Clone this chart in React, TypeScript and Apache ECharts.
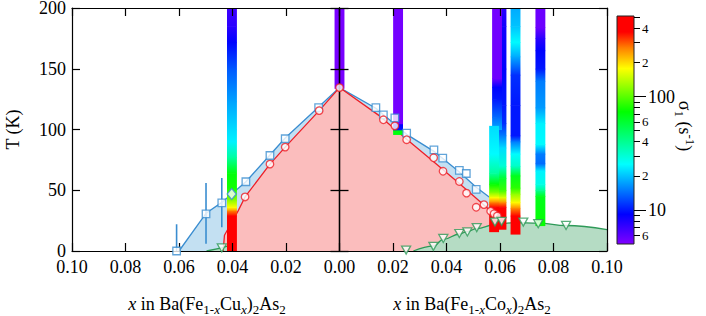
import React, { useEffect, useRef } from 'react';
import * as echarts from 'echarts';

// ---------------- data ----------------
// x < 0 : Cu side (0.10 ... 0.00), x > 0 : Co side (0.00 ... 0.10); y : T (K)
const blueSquares: number[][] = [
  [-0.0609, 0], [-0.0499, 30.6], [-0.044, 39.6], [-0.035, 57], [-0.026, 78.6], [-0.0203, 92.4], [-0.0078, 118],
  [0.0136, 118], [0.0164, 112], [0.0207, 109.5], [0.0251, 97], [0.0353, 83.3], [0.0386, 76.5],
  [0.0448, 66.4], [0.0474, 63.8], [0.0511, 50.8],
];
const blueDiamonds: number[][] = [[-0.0403, 47]];
// [x, low, high]
const blueErrorBars: number[][] = [[-0.0609, 0, 22], [-0.0499, 6, 56], [-0.044, 19.5, 60]];
const redCircles: number[][] = [
  [-0.0353, 44.5], [-0.026, 71.5], [-0.0203, 85.5], [-0.0076, 115.5], [0, 134.5],
  [0.0164, 108], [0.0207, 103], [0.0251, 91.6], [0.0352, 76.7], [0.0387, 65.6], [0.0448, 57.2],
  [0.0475, 47.6], [0.0511, 36], [0.054, 38.2], [0.0565, 32.8], [0.0578, 30.7], [0.059, 28.8],
];
const greenTriangles: number[][] = [
  [-0.044, 2.5],
  [0.0249, 0.8], [0.0351, 3.8], [0.0388, 10.3], [0.0448, 14.4], [0.0478, 15.7], [0.0513, 19.3],
  [0.0581, 23.8], [0.0606, 24.4], [0.0687, 23.8], [0.0743, 22.5], [0.0847, 21],
];
const blueBoundary: number[][] = [
  [-0.06, 0], [-0.0499, 31], [-0.044, 40], [-0.0403, 47], [-0.035, 57], [-0.026, 79], [-0.0203, 93],
  [-0.0078, 118.5], [0, 134.5], [0.0136, 117.5], [0.0251, 96], [0.0353, 82], [0.0448, 65], [0.0511, 52.5],
  [0.0598, 38],
];
const redBoundary: number[][] = [
  [-0.0435, 0], [-0.043, 13], [-0.0379, 33], [-0.0353, 44.5], [-0.026, 71.5], [-0.0203, 85.5],
  [-0.0076, 115.5], [0, 134.5], [0.0151, 111], [0.0251, 92], [0.0352, 73.5], [0.0448, 55.5],
  [0.0511, 43.5], [0.0578, 30.5], [0.0598, 25],
];
const greenBoundaryCu: number[][] = [[-0.0497, 0], [-0.044, 2.5], [-0.0405, 5]];
const greenBoundaryCo: number[][] = [
  [0.0276, 0], [0.0351, 4], [0.0388, 9.5], [0.0448, 14], [0.0478, 16], [0.0513, 18.5], [0.0581, 21.8],
  [0.065, 23.3], [0.0745, 23], [0.0847, 21], [0.1, 17.6],
];

// relaxation-rate strips: x position and [T, rate (s^-1)] nodes, top to bottom
const stripCuX = -0.0402;
const stripCu: number[][] = [
  [200, 6.8], [185, 7.5], [172, 9.2], [150, 13], [123, 17.5], [100, 22], [90, 24], [77, 38], [64, 70],
  [52, 78], [42, 117], [36, 178], [33, 270], [29, 380], [0, 420],
];
const strip0X = 0;
const strip0: number[][] = [[200, 5.2], [134, 5.2]];
const strip22X = 0.0219;
const strip22: number[][] = [[200, 5.3], [105, 5.3], [104, 9.2], [100, 10], [99, 70], [96, 70]];
const stripRX = 0.06055;
const stripR: number[][] = [
  [200, 7.5], [185, 8.5], [150, 9.2], [120, 10], [105, 11], [95, 15], [85, 22], [70, 30], [60, 60],
  [50, 90], [44, 160], [40, 260], [36, 380], [18, 420],
];
const stripQX = 0.0589;
const stripQ: number[][] = [[200, 5.3], [142, 5.5], [135, 9.2], [125, 10], [110, 14], [100, 18]];
const stripPX = 0.0578;
const stripP: number[][] = [
  [103, 22], [80, 25], [64, 38], [55, 74], [48, 117], [44, 178], [40, 270], [36, 380], [16, 420],
];
const stripSX = 0.0658;
const stripS: number[][] = [
  [200, 18], [185, 20], [172, 25], [160, 18], [145, 11], [120, 10], [95, 10], [90, 15], [80, 25],
  [70, 32], [62, 65], [52, 85], [47, 120], [40, 180], [35, 270], [29, 400], [14, 420],
];
const stripUX = 0.0751;
const stripU: number[][] = [
  [200, 5.5], [184, 5.5], [175, 7.5], [165, 9.2], [150, 10], [140, 15], [118, 17], [105, 24], [88, 25],
  [80, 15], [72, 14], [66, 24], [55, 28], [50, 40], [45, 65], [21, 75],
];

// colour bar
const rateMin = 5;
const rateMax = 515;
const cbMajorTicks = [10, 100];
const cbMinorTicks = [6, 7, 8, 9, 20, 30, 40, 50, 60, 70, 80, 90, 200, 300, 400, 500];
const cbMinorLabels = [6, 20, 40, 60, 200, 400];

// ---------------- styles ----------------
const FONT = 'Liberation Serif';
const BLUE = '#3a8dd0';
const RED = '#ee1f27';
const GREEN = '#2e9a58';
const BLUE_FILL = '#c3e0f2';
const RED_FILL = '#fbbdbd';
const GREEN_FILL = '#b5dcc4';
const STRIP_W = 0.0037;

const CMAP: [number, number[]][] = [
  [0, [128, 0, 255]],
  [0.13, [0, 0, 255]],
  [0.35, [0, 255, 255]],
  [0.58, [0, 255, 0]],
  [0.77, [255, 255, 0]],
  [0.86, [255, 128, 0]],
  [0.93, [255, 0, 0]],
  [1, [255, 0, 0]],
];
const LMIN = Math.log10(rateMin);
const LMAX = Math.log10(rateMax);

function colorAt(t: number): string {
  t = Math.max(0, Math.min(1, t));
  for (let i = 1; i < CMAP.length; i++) {
    const [t0, c0] = CMAP[i - 1];
    const [t1, c1] = CMAP[i];
    if (t <= t1) {
      const f = t1 === t0 ? 0 : (t - t0) / (t1 - t0);
      const c = c0.map((v, k) => Math.round(v + (c1[k] - v) * f));
      return `rgb(${c[0]},${c[1]},${c[2]})`;
    }
  }
  return 'rgb(255,0,0)';
}
function rateColor(rate: number): string {
  return colorAt((Math.log10(rate) - LMIN) / (LMAX - LMIN));
}

function stripRows(x: number, nodes: number[][]): number[][] {
  const rows: number[][] = [];
  for (let i = 0; i < nodes.length - 1; i++) {
    rows.push([x, nodes[i][0], nodes[i][1], nodes[i + 1][0], nodes[i + 1][1]]);
  }
  return rows;
}

const stripData = [
  ...stripRows(stripCuX, stripCu),
  ...stripRows(strip0X, strip0),
  ...stripRows(strip22X, strip22),
  ...stripRows(stripRX, stripR),
  ...stripRows(stripQX, stripQ),
  ...stripRows(stripPX, stripP),
  ...stripRows(stripSX, stripS),
  ...stripRows(stripUX, stripU),
];

const axisLine = { color: '#000', width: 1.2 };

function buildOption(): any {
  const subRich = {
    n: { fontSize: 18, fontFamily: FONT, lineHeight: 24, verticalAlign: 'middle', fill: '#000' },
    i: { fontSize: 18, fontFamily: FONT, fontStyle: 'italic', lineHeight: 24, verticalAlign: 'middle', fill: '#000' },
    s: { fontSize: 13, fontFamily: FONT, lineHeight: 13, verticalAlign: 'bottom', fill: '#000' },
    si: { fontSize: 13, fontFamily: FONT, fontStyle: 'italic', lineHeight: 13, verticalAlign: 'bottom', fill: '#000' },
    sup: { fontSize: 13, fontFamily: FONT, lineHeight: 13, verticalAlign: 'top', fill: '#000' },
  };
  const titleText = (el: string) =>
    `{i|x}{n| in Ba(Fe}{s|1-}{si|x}{n|${el}}{si|x}{n|)}{s|2}{n|As}{s|2}`;

  const zeroAxis = (inside: boolean) => ({
    gridIndex: 0, type: 'value', min: 0, max: 200, interval: 50, position: 'left',
    axisLine: { show: true, onZero: true, onZeroAxisIndex: 0, lineStyle: { color: '#000', width: 1.3 } },
    axisTick: { show: true, inside, length: 9, lineStyle: { color: '#000', width: 1.3 } },
    axisLabel: { show: false }, splitLine: { show: false }, z: 3,
  });

  return {
    animation: false,
    backgroundColor: '#fff',
    textStyle: { fontFamily: FONT, color: '#000' },
    grid: [
      { left: 72, top: 8, width: 535, height: 243, outerBoundsMode: 'none' },
      {
        left: 617, top: 16, width: 17, height: 228, show: true, borderColor: '#222', borderWidth: 1,
        backgroundColor: 'transparent', z: 6, outerBoundsMode: 'none',
      },
    ],
    xAxis: [
      {
        gridIndex: 0, type: 'value', min: -0.1, max: 0.1, interval: 0.02, position: 'bottom',
        axisLine: { show: true, onZero: false, lineStyle: axisLine },
        axisTick: { show: true, inside: true, length: 8, lineStyle: axisLine },
        axisLabel: {
          margin: 8, fontSize: 18, color: '#000', fontFamily: FONT, lineHeight: 16,
          formatter: (v: number) => Math.abs(v).toFixed(2),
        },
        splitLine: { show: false }, z: 3,
      },
      {
        gridIndex: 0, type: 'value', min: -0.1, max: 0.1, interval: 0.02, position: 'top',
        axisLine: { show: true, onZero: false, lineStyle: axisLine },
        axisTick: { show: true, inside: true, length: 8, lineStyle: axisLine },
        axisLabel: { show: false }, splitLine: { show: false }, z: 3,
      },
      { gridIndex: 1, type: 'value', min: 0, max: 1, show: false },
    ],
    yAxis: [
      {
        gridIndex: 0, type: 'value', min: 0, max: 200, interval: 50, position: 'left',
        axisLine: { show: true, onZero: false, lineStyle: axisLine },
        axisTick: { show: true, inside: true, length: 8, lineStyle: axisLine },
        axisLabel: { margin: 6, fontSize: 18, color: '#000', fontFamily: FONT, lineHeight: 14 },
        splitLine: { show: false },
        name: 'T (K)', nameLocation: 'middle', nameGap: 50,
        nameTextStyle: { fontSize: 18, color: '#000', fontFamily: FONT }, z: 3,
      },
      {
        gridIndex: 0, type: 'value', min: 0, max: 200, interval: 50, position: 'right',
        axisLine: { show: true, onZero: false, lineStyle: axisLine },
        axisTick: { show: true, inside: true, length: 8, lineStyle: axisLine },
        axisLabel: { show: false }, splitLine: { show: false }, z: 3,
      },
      zeroAxis(true),
      zeroAxis(false),
      {
        gridIndex: 1, type: 'value', min: LMIN, max: LMAX, position: 'right',
        axisLine: { show: false, onZero: false },
        axisTick: {
          show: true, inside: false, length: 12, customValues: cbMajorTicks.map(Math.log10),
          lineStyle: { color: '#000', width: 1 },
        },
        axisLabel: {
          show: true, margin: 14, fontSize: 18, color: '#000', fontFamily: FONT,
          customValues: cbMajorTicks.map(Math.log10),
          formatter: (v: number) => String(Math.round(Math.pow(10, v))),
        },
        splitLine: { show: false }, z: 7,
      },
      {
        gridIndex: 1, type: 'value', min: LMIN, max: LMAX, position: 'right',
        axisLine: { show: false, onZero: false },
        axisTick: {
          show: true, inside: false, length: 6, customValues: cbMinorTicks.map(Math.log10),
          lineStyle: { color: '#000', width: 1 },
        },
        axisLabel: {
          show: true, margin: 8, fontSize: 13, color: '#000', fontFamily: FONT,
          customValues: cbMinorLabels.map(Math.log10),
          formatter: (v: number) => String(Math.round(Math.pow(10, v))).charAt(0),
        },
        splitLine: { show: false }, z: 7,
      },
    ],
    graphic: [
      {
        type: 'text', x: 207, y: 304, z: 10,
        style: {
          text: titleText('Cu'), rich: subRich, align: 'center', verticalAlign: 'middle',
          textAlign: 'center', textVerticalAlign: 'middle', fontFamily: FONT, fontSize: 18, fill: '#000',
        },
      },
      {
        type: 'text', x: 472, y: 304, z: 10,
        style: {
          text: titleText('Co'), rich: subRich, align: 'center', verticalAlign: 'middle',
          textAlign: 'center', textVerticalAlign: 'middle', fontFamily: FONT, fontSize: 18, fill: '#000',
        },
      },
      {
        type: 'text', x: 685, y: 126, rotation: -Math.PI / 2, z: 10,
        style: {
          text: '{n|σ}{s|1}{n| (s}{sup|-1}{n|)}', rich: subRich, align: 'center', verticalAlign: 'middle',
          textAlign: 'center', textVerticalAlign: 'middle', fontFamily: FONT, fontSize: 18, fill: '#000',
        },
      },
    ],
    series: [
      {
        type: 'line', xAxisIndex: 0, yAxisIndex: 0, data: blueBoundary, showSymbol: false, silent: true,
        lineStyle: { color: BLUE, width: 1.3 }, areaStyle: { color: BLUE_FILL, opacity: 1 }, z: 1,
      },
      {
        type: 'line', xAxisIndex: 0, yAxisIndex: 0, data: redBoundary, showSymbol: false, silent: true,
        lineStyle: { color: RED, width: 1.3 }, areaStyle: { color: RED_FILL, opacity: 1 }, z: 1,
      },
      {
        type: 'line', xAxisIndex: 0, yAxisIndex: 0, data: greenBoundaryCu, showSymbol: false, silent: true,
        lineStyle: { color: GREEN, width: 1.3 }, areaStyle: { color: GREEN_FILL, opacity: 1 }, z: 1,
      },
      {
        type: 'line', xAxisIndex: 0, yAxisIndex: 0, data: greenBoundaryCo, showSymbol: false, silent: true,
        smooth: 0.4, smoothMonotone: 'x',
        lineStyle: { color: GREEN, width: 1.3 }, areaStyle: { color: GREEN_FILL, opacity: 1 }, z: 1,
      },
      {
        type: 'custom', xAxisIndex: 0, yAxisIndex: 0, data: stripData, silent: true, clip: true, z: 2,
        encode: { x: 0, y: [1, 3] },
        renderItem: (params: any, api: any) => {
          const x = api.value(0);
          const tTop = api.value(1), rTop = api.value(2), tBot = api.value(3), rBot = api.value(4);
          const a = api.coord([x - STRIP_W / 2, tTop]);
          const b = api.coord([x + STRIP_W / 2, tBot]);
          return {
            type: 'rect',
            shape: { x: a[0], y: a[1], width: b[0] - a[0], height: b[1] - a[1] + 0.6 },
            style: {
              fill: new echarts.graphic.LinearGradient(0, 0, 0, 1, [
                { offset: 0, color: rateColor(rTop) },
                { offset: 1, color: rateColor(rBot) },
              ]),
            },
          };
        },
      },
      {
        type: 'custom', xAxisIndex: 0, yAxisIndex: 0, data: blueErrorBars, silent: true, z: 4,
        encode: { x: 0, y: [1, 2] },
        renderItem: (params: any, api: any) => {
          const a = api.coord([api.value(0), api.value(1)]);
          const b = api.coord([api.value(0), api.value(2)]);
          return {
            type: 'line', shape: { x1: a[0], y1: a[1], x2: b[0], y2: b[1] },
            style: { stroke: BLUE, lineWidth: 1.6 },
          };
        },
      },
      {
        type: 'scatter', xAxisIndex: 0, yAxisIndex: 0, data: blueSquares, symbol: 'rect', symbolSize: 7.5,
        itemStyle: { color: '#fff', borderColor: BLUE, borderWidth: 1.3 }, z: 5, silent: true,
      },
      {
        type: 'scatter', xAxisIndex: 0, yAxisIndex: 0, data: blueDiamonds, symbol: 'diamond', symbolSize: [9, 11],
        itemStyle: { color: '#fff', borderColor: BLUE, borderWidth: 1.3 }, z: 5, silent: true,
      },
      {
        type: 'scatter', xAxisIndex: 0, yAxisIndex: 0, data: redCircles, symbol: 'circle', symbolSize: 7.5,
        itemStyle: { color: '#fff', borderColor: RED, borderWidth: 1.3 }, z: 5, silent: true,
      },
      {
        type: 'scatter', xAxisIndex: 0, yAxisIndex: 0, data: greenTriangles, symbol: 'triangle',
        symbolRotate: 180, symbolSize: [9, 8],
        itemStyle: { color: '#fff', borderColor: GREEN, borderWidth: 1.3 }, z: 5, silent: true,
      },
      {
        type: 'custom', xAxisIndex: 2, yAxisIndex: 4, data: [[0, LMAX, 1, LMIN]], silent: true, z: 2,
        renderItem: (params: any, api: any) => {
          const a = api.coord([api.value(0), api.value(1)]);
          const b = api.coord([api.value(2), api.value(3)]);
          const stops = CMAP.map(([t]) => ({ offset: 1 - t, color: colorAt(t) })).reverse();
          return {
            type: 'rect',
            shape: { x: a[0], y: a[1], width: b[0] - a[0], height: b[1] - a[1] },
            style: { fill: new echarts.graphic.LinearGradient(0, 0, 0, 1, stops) },
          };
        },
      },
    ],
  };
}

export default function App() {
  const ref = useRef<HTMLDivElement>(null);
  useEffect(() => {
    document.body.style.margin = '0';
    const chart = echarts.init(ref.current!, null, { renderer: 'svg' });
    chart.setOption(buildOption());
    return () => chart.dispose();
  }, []);
  return <div ref={ref} style={{ width: 706, height: 316 }} />;
}
